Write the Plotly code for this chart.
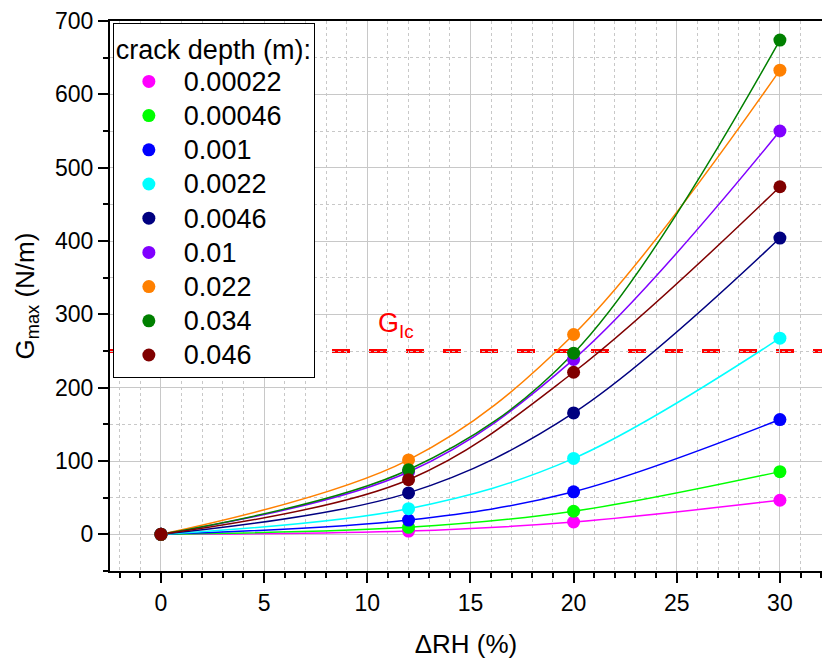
import plotly.graph_objects as go

# Relative humidity change (%) at which G_max was evaluated
delta_rh = [0, 12, 20, 30]

# Crack depths (m) and their maximum energy release rate G_max (N/m)
crack_depths = ["0.00022", "0.00046", "0.001", "0.0022", "0.0046", "0.01", "0.022", "0.034", "0.046"]
g_00022 = [0, 4.5, 16.8, 46.5]
g_00046 = [0, 9.5, 31.5, 85.5]
g_0001 = [0, 19.5, 58.0, 156.5]
g_0022 = [0, 35.0, 103.5, 267.5]
g_0046 = [0, 56.5, 165.5, 404.0]
g_001 = [0, 85.0, 238.5, 550.0]
g_022 = [0, 101.5, 272.5, 633.0]
g_034 = [0, 88.0, 247.0, 674.0]
g_046 = [0, 74.5, 221.0, 474.0]
series = [g_00022, g_00046, g_0001, g_0022, g_0046, g_001, g_022, g_034, g_046]
colors = ["#FF00FF", "#00FF00", "#0000FF", "#00FFFF", "#000080",
          "#8000FF", "#FF8000", "#008000", "#800000"]

# Critical energy release rate
G_IC = 250

FONT = "Arial, Liberation Sans, sans-serif"

fig = go.Figure()

# Smooth trend lines through each series
for vals, col in zip(series, colors):
    fig.add_trace(go.Scatter(
        x=delta_rh, y=vals, mode="lines",
        line=dict(color=col, width=1.5, shape="spline", smoothing=1.0),
        showlegend=False, hoverinfo="skip"))

# Data points (shown in the legend); legend rows are spaced by the
# legend font size while the entry text itself is drawn a bit larger
for name, vals, col in zip(crack_depths, series, colors):
    fig.add_trace(go.Scatter(
        x=delta_rh, y=vals, mode="markers",
        name=f'<span style="font-size:27px">{name}</span>',
        marker=dict(color=col, size=13, line=dict(width=0))))

# Critical value line
fig.add_shape(type="line", xref="paper", x0=0, x1=1, yref="y", y0=G_IC, y1=G_IC,
              line=dict(color="#FF0000", width=4, dash="18px,19px"), layer="below")
fig.add_annotation(x=10.4, y=G_IC + 35, xref="x", yref="y", text="G<sub>Ic</sub>",
                   showarrow=False, xanchor="left", yanchor="middle",
                   font=dict(family=FONT, size=27, color="#FF0000"))

grid_major = "#C8C8C8"
grid_minor = "#C8C8C8"

fig.update_xaxes(
    range=[-2.47, 32.04], dtick=5, tick0=0,
    showline=True, linecolor="black", linewidth=2, mirror=True,
    ticks="outside", ticklen=10, tickwidth=1.5, tickcolor="black",
    showgrid=True, gridcolor=grid_major, gridwidth=1,
    zeroline=False,
    minor=dict(dtick=1, tick0=0, showgrid=True, gridcolor=grid_minor, griddash="3px,3px",
               gridwidth=1, ticks="outside", ticklen=5, tickwidth=1.5, tickcolor="black"),
    tickfont=dict(family=FONT, size=23, color="black"),
    title=dict(text="ΔRH (%)", font=dict(family=FONT, size=26, color="black"), standoff=20),
)
fig.update_yaxes(
    range=[-50, 700], dtick=100, tick0=0,
    showline=True, linecolor="black", linewidth=2, mirror=False,
    ticks="outside", ticklen=10, tickwidth=1.5, tickcolor="black",
    showgrid=True, gridcolor=grid_major, gridwidth=1,
    zeroline=False,
    minor=dict(dtick=50, tick0=0, showgrid=True, gridcolor=grid_minor, griddash="3px,3px",
               gridwidth=1, ticks="outside", ticklen=5, tickwidth=1.5, tickcolor="black"),
    tickfont=dict(family=FONT, size=23, color="black"),
    title=dict(text="G<sub>max</sub> (N/m)", font=dict(family=FONT, size=26, color="black"),
               standoff=13),
)

fig.update_layout(
    width=822, height=664,
    margin=dict(l=110, r=0, t=21, b=93, autoexpand=False),
    plot_bgcolor="white", paper_bgcolor="white",
    font=dict(family=FONT, color="black"),
    legend=dict(
        title=dict(text="crack depth (m):", font=dict(family=FONT, size=27, color="black")),
        font=dict(family=FONT, size=24, color="black"),
        x=0.004, y=0.996, xanchor="left", yanchor="top",
        bgcolor="white", bordercolor="black", borderwidth=1,
        itemwidth=60, tracegroupgap=0,
    ),
)

fig.write_html("out.html")
